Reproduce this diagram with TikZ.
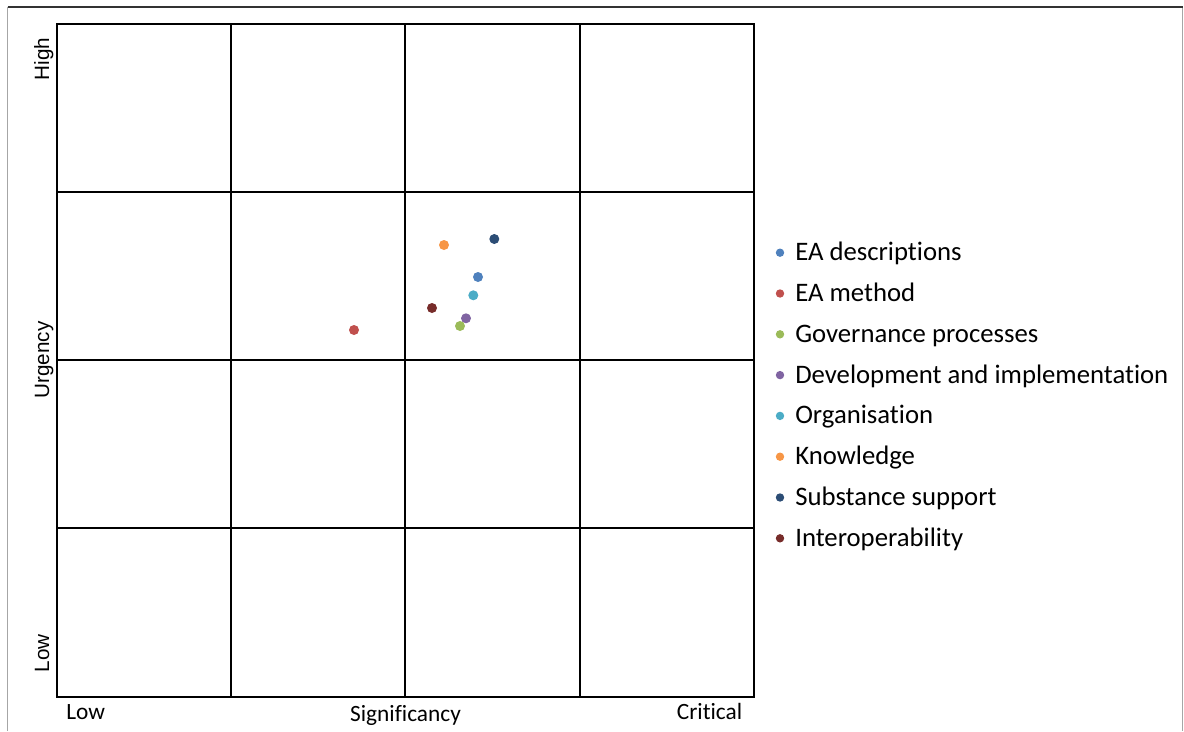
\documentclass[tikz,border=0pt]{standalone}
\usepackage{fontspec}
\setmainfont{Carlito}[Ligatures=NoCommon]
\newfontfamily\axefont{Liberation Sans}
\definecolor{eadesc}{HTML}{4F81BD}
\definecolor{eameth}{HTML}{C0504D}
\definecolor{gouv}{HTML}{9BBB59}
\definecolor{devimpl}{HTML}{8064A2}
\definecolor{orga}{HTML}{4BACC6}
\definecolor{savoir}{HTML}{F79646}
\definecolor{subst}{HTML}{2C4D75}
\definecolor{interop}{HTML}{772C2A}
\tikzset{
  point/.style={circle,fill=#1,inner sep=0pt,minimum size=0.25cm},
  puce/.style={circle,fill=#1,inner sep=0pt,minimum size=0.21cm},
  legende/.style={anchor=base west,inner sep=0pt,font=\fontsize{19}{22}\selectfont},
  axe/.style={inner sep=0pt,font=\fontsize{16.6}{20}\selectfont},
  axev/.style={rotate=90,anchor=base,inner sep=0pt,font=\axefont\fontsize{14.7}{17}\selectfont}
}
\begin{document}
\begin{tikzpicture}[x=0.025cm,y=-0.025cm]
		\useasboundingbox (0,0) rectangle (1184,731);
		% Cadre
		\draw[gray!70,line width=0.8pt] (7.5,731) -- (7.5,7.3);
		\draw[gray!70,line width=0.8pt] (1182.5,7.3) -- (1182.5,731);
		\draw[black!80,line width=1.2pt] (7.5,7.3) -- (1183,7.3);
		
		% Grille
		\draw[line width=0.75pt] (57,24) rectangle (754,697);
		\draw[line width=0.75pt] (231,24) -- (231,697);
		\draw[line width=0.75pt] (405,24) -- (405,697);
		\draw[line width=0.75pt] (580,24) -- (580,697);
		\draw[line width=0.75pt] (57,192) -- (754,192);
		\draw[line width=0.75pt] (57,360) -- (754,360);
		\draw[line width=0.75pt] (57,528) -- (754,528);
		
		% Axes
		\node[axev] (haut) at (49,59) {High};
		\node[axev] (urg) at (49,360) {Urgency};
		\node[axev] (basv) at (49,653.3) {Low};
		\node[axe,anchor=base west] (bas) at (66,719) {Low};
		\node[axe,anchor=base] (sig) at (405.5,721.5) {Significancy};
		\node[axe,anchor=base east] (crit) at (742.5,719) {Critical};
		
		% Points
		\node[point=savoir] (p6) at (444,245) {};
		\node[point=subst] (p7) at (494.3,239) {};
		\node[point=eadesc] (p1) at (478,277) {};
		\node[point=orga] (p5) at (473.3,295.3) {};
		\node[point=interop] (p8) at (432,308) {};
		\node[point=devimpl] (p4) at (466,318.3) {};
		\node[point=gouv] (p3) at (460,326) {};
		\node[point=eameth] (p2) at (354,330) {};
		
		% Légende
		\node[puce=eadesc] (b1) at (780,252.7) {};
		\node[puce=eameth] (b2) at (780,293.5) {};
		\node[puce=gouv] (b3) at (780,334.3) {};
		\node[puce=devimpl] (b4) at (780,375.1) {};
		\node[puce=orga] (b5) at (780,415.9) {};
		\node[puce=savoir] (b6) at (780,456.7) {};
		\node[puce=subst] (b7) at (780,497.5) {};
		\node[puce=interop] (b8) at (780,538.3) {};
		\node[legende] (l1) at (795,260.7) {EA descriptions};
		\node[legende] (l2) at (795,301.5) {EA method};
		\node[legende] (l3) at (795,342.3) {Governance processes};
		\node[legende] (l4) at (795,383.1) {Development and implementation};
		\node[legende] (l5) at (795,423.9) {Organisation};
		\node[legende] (l6) at (795,464.7) {Knowledge};
		\node[legende] (l7) at (795,505.5) {Substance support};
		\node[legende] (l8) at (795,546.3) {Interoperability};
	\end{tikzpicture}
\end{document}
